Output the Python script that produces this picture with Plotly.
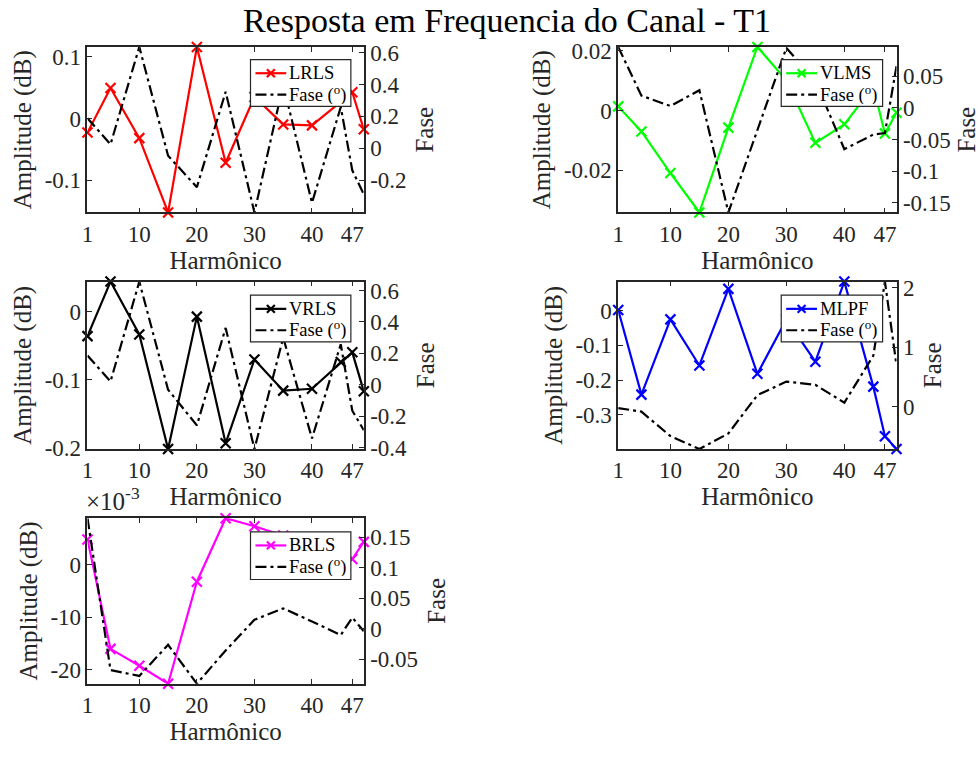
import plotly.graph_objects as go

# ---------------- data ----------------
harm = [1, 5, 10, 15, 20, 25, 30, 35, 40, 45, 47, 49]
x_ticks = [1, 10, 20, 30, 40, 47]

lrls_amp = [-0.0229, 0.0495, -0.0319, -0.1527, 0.1163, -0.0718, 0.035, -0.0096, -0.0112, 0.028, 0.0426, -0.0176]
lrls_phase = [0.188, 0.024, 0.637, -0.047, -0.245, 0.355, -0.404, 0.40, -0.343, 0.259, -0.139, -0.29]

vlms_amp = [0.0014, -0.0070, -0.0209, -0.0341, -0.0057, 0.0213, 0.0101, -0.0108, -0.0046, 0.008, -0.0077, -0.0007]
vlms_phase = [0.0964, 0.0195, 0.003, 0.028, -0.165, -0.035, 0.095, 0.043, -0.065, -0.042, -0.0395, 0.066]

vrls_amp = [-0.0357, 0.0443, -0.0333, -0.2014, -0.0071, -0.193, -0.07, -0.1157, -0.113, -0.0738, -0.0595, -0.1167]
vrls_phase = [0.186, 0.021, 0.657, -0.031, -0.258, 0.362, -0.409, 0.30, -0.341, 0.258, -0.165, -0.289]

mlpf_amp = [0.002, -0.242, -0.025, -0.158, 0.063, -0.182, -0.025, -0.147, 0.084, -0.219, -0.362, -0.399]
mlpf_phase = [-0.02, -0.08, -0.49, -0.707, -0.446, 0.196, 0.424, 0.37, 0.071, 0.859, 2.10, 0.696]

brls_amp = [4.74e-3, -16.0e-3, -19.2e-3, -22.6e-3, -3.26e-3, 8.8e-3, 7.26e-3, 5.5e-3, 3.5e-3, 1.9e-3, 1.05e-3, 4.3e-3]
brls_phase = [0.181, -0.068, -0.0777, -0.0266, -0.0904, -0.036, 0.0144, 0.033, 0.0117, -0.0106, 0.018, -0.0043]

names = ["LRLS", "VLMS", "VRLS", "MLPF", "BRLS"]
phase_name = "Fase (<sup>o</sup>)"
colors = ["#ff0000", "#00ff00", "#000000", "#0000ff", "#ff00ff"]
amps = [lrls_amp, vlms_amp, vrls_amp, mlpf_amp, brls_amp]
phases = [lrls_phase, vlms_phase, vrls_phase, mlpf_phase, brls_phase]

amp_tickvals = [[-0.1, 0, 0.1], [-0.02, 0, 0.02], [-0.2, -0.1, 0], [-0.3, -0.2, -0.1, 0], [-0.02, -0.01, 0]]
amp_ticktext = [["-0.1", "0", "0.1"], ["-0.02", "0", "0.02"], ["-0.2", "-0.1", "0"],
                ["-0.3", "-0.2", "-0.1", "0"], ["-20", "-10", "0"]]
ph_tickvals = [[-0.2, 0, 0.2, 0.4, 0.6], [-0.15, -0.1, -0.05, 0, 0.05], [-0.4, -0.2, 0, 0.2, 0.4, 0.6],
               [0, 1, 2], [-0.05, 0, 0.05, 0.1, 0.15]]
ph_ticktext = [["-0.2", "0", "0.2", "0.4", "0.6"], ["-0.15", "-0.1", "-0.05", "0", "0.05"],
               ["-0.4", "-0.2", "0", "0.2", "0.4", "0.6"], ["0", "1", "2"],
               ["-0.05", "0", "0.05", "0.1", "0.15"]]

# ---------------- layout geometry (pixels) ----------------
W, H = 980, 758
boxes = [  # left, right, top, bottom
    (82, 360, 40, 210),
    (616, 896, 40, 210),
    (82, 360, 281, 453),
    (616, 896, 281, 453),
    (82, 360, 524, 694),
]
legend_boxes = [  # left, top, width, height
    (246, 53, 101, 48),
    (780, 53, 102, 48),
    (246, 295, 101, 48),
    (780, 295, 102, 48),
    (246, 538, 101, 49),
]

FONT = "Liberation Serif, Times New Roman, DejaVu Serif, serif"
TICK = 23
LAB = 25
LEG = 18.5
TXT = "#262626"
DASHDOT = "11px,4px,3px,4px"


def px(x):
    return x / W


def py(y):
    return 1 - y / H


fig = go.Figure()
layout = {}
shapes = []
annotations = []
for i in range(5):
    n = i + 1
    xa = f"x{n}" if n > 1 else "x"
    ya = f"y{2*n-1}" if n > 1 else "y"
    yb = f"y{2*n}"
    fig.add_trace(go.Scatter(
        x=harm, y=amps[i], name=names[i], xaxis=xa, yaxis=ya,
        mode="lines+markers", cliponaxis=False,
        line=dict(color=colors[i], width=2.2),
        marker=dict(symbol="x-thin", size=10, line=dict(color=colors[i], width=2.2), color=colors[i]),
    ))
    fig.add_trace(go.Scatter(
        x=harm, y=phases[i], name=phase_name, xaxis=xa, yaxis=yb,
        mode="lines", line=dict(color="black", width=2.2, dash=DASHDOT),
    ))
    l, r, t, b = boxes[i]
    xkey = "xaxis" if n == 1 else f"xaxis{n}"
    ykey = "yaxis" if n == 1 else f"yaxis{2*n-1}"
    y2key = f"yaxis{2*n}"
    common = dict(showline=True, linecolor="#262626", linewidth=1.6, ticks="inside", ticklen=5,
                  tickcolor="#262626", tickwidth=1, showgrid=False, zeroline=False,
                  tickfont=dict(family=FONT, size=TICK, color=TXT))
    layout[xkey] = dict(common, domain=[l / W, r / W], anchor=ya, range=[min(harm), max(harm)],
                        tickvals=x_ticks, mirror="ticks", ticklabelstandoff=0,
                        title=dict(text="Harmônico", font=dict(family=FONT, size=LAB, color=TXT), standoff=3))
    layout[ykey] = dict(common, domain=[1 - b / H, 1 - t / H], anchor=xa,
                        range=[min(amps[i]), max(amps[i])],
                        tickvals=amp_tickvals[i], ticktext=amp_ticktext[i],
                        title=dict(text="Amplitude (dB)", font=dict(family=FONT, size=LAB, color=TXT), standoff=6))
    layout[y2key] = dict(common, overlaying=ya, side="right", anchor=xa,
                         range=[min(phases[i]), max(phases[i])],
                         tickvals=ph_tickvals[i], ticktext=ph_ticktext[i],
                         title=dict(text="Fase", font=dict(family=FONT, size=LAB, color=TXT), standoff=10))

    # legend box (drawn like the MATLAB legend)
    lx, ly, lw, lh = legend_boxes[i]
    shapes.append(dict(type="rect", xref="paper", yref="paper", layer="above",
                       x0=px(lx), x1=px(lx + lw), y0=py(ly), y1=py(ly + lh),
                       fillcolor="white", line=dict(color="#262626", width=1.2)))
    r1 = ly + 14
    r2 = ly + 36
    s0, s1 = lx + 5, lx + 36
    cx = (s0 + s1) / 2
    shapes.append(dict(type="line", xref="paper", yref="paper", layer="above",
                       x0=px(s0), x1=px(s1), y0=py(r1), y1=py(r1),
                       line=dict(color=colors[i], width=2.2)))
    for dy in (-4, 4):
        shapes.append(dict(type="line", xref="paper", yref="paper", layer="above",
                           x0=px(cx - 4), x1=px(cx + 4), y0=py(r1 - dy), y1=py(r1 + dy),
                           line=dict(color=colors[i], width=2.2)))
    shapes.append(dict(type="line", xref="paper", yref="paper", layer="above",
                       x0=px(s0), x1=px(s1), y0=py(r2), y1=py(r2),
                       line=dict(color="black", width=2.2, dash=DASHDOT)))
    annotations.append(dict(text=names[i], xref="paper", yref="paper", x=px(lx + 38), y=py(r1),
                            xanchor="left", yanchor="middle", showarrow=False, height=20, borderpad=0,
                            font=dict(family=FONT, size=LEG, color="black")))
    annotations.append(dict(text=phase_name, xref="paper", yref="paper", x=px(lx + 38), y=py(r2 - 1),
                            xanchor="left", yanchor="middle", showarrow=False, height=20, borderpad=0,
                            font=dict(family=FONT, size=LEG, color="black")))

annotations.append(dict(text="×10<sup>-3</sup>", xref="paper", yref="paper", x=px(78), y=py(523),
                        xanchor="left", yanchor="bottom", showarrow=False,
                        font=dict(family=FONT, size=25, color=TXT)))

fig.update_layout(**layout)
fig.update_layout(
    width=W, height=H, margin=dict(l=0, r=0, t=0, b=0),
    paper_bgcolor="white", plot_bgcolor="white", showlegend=False,
    font=dict(family=FONT),
    title=dict(text="Resposta em Frequencia do Canal - T1", x=507 / W, xanchor="center",
               y=1 - 20 / H, yanchor="middle", font=dict(family=FONT, size=34, color="black")),
    shapes=shapes,
    annotations=annotations,
)

fig.write_html("out.html")
